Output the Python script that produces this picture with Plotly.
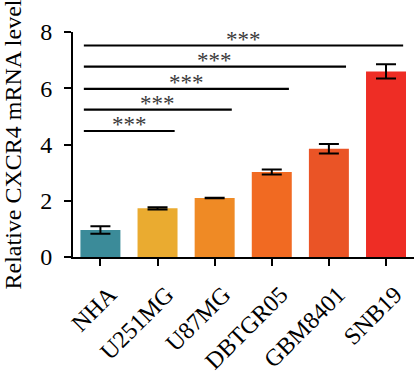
import plotly.graph_objects as go

categories = ["NHA", "U251MG", "U87MG", "DBTGR05", "GBM8401", "SNB19"]
values = [0.96, 1.73, 2.10, 3.02, 3.85, 6.60]
errors = [0.13, 0.04, 0.01, 0.09, 0.17, 0.25]
colors = ["#3b8b99", "#eaab30", "#ef8a25", "#f16a22", "#ea5426", "#ee2d25"]

# significance comparisons: (from index, to index, y level, label)
sig_to = [1, 2, 3, 4, 5]
sig_y = [4.48, 5.24, 5.98, 6.77, 7.52]
sig_label = ["***", "***", "***", "***", "***"]

FONT = "Liberation Serif"

fig = go.Figure()
fig.add_trace(go.Bar(
    x=list(range(len(categories))),
    y=values,
    marker=dict(color=colors, line=dict(width=0)),
    width=0.7,
    error_y=dict(type="data", array=errors, visible=True,
                 color="black", thickness=2, width=10),
    showlegend=False,
))

for t, yv, lab in zip(sig_to, sig_y, sig_label):
    x0, x1 = -0.29, t + 0.30
    fig.add_shape(type="line", x0=x0, x1=x1, y0=yv, y1=yv,
                  xref="x", yref="y", line=dict(color="black", width=2.2))
    fig.add_annotation(x=(x0 + x1) / 2, y=yv, text=lab, showarrow=False,
                       yanchor="bottom", yshift=-8,
                       font=dict(family=FONT, size=23, color="#3a3a3a"))

# extend x axis line slightly left of the y axis (GraphPad style)
fig.add_shape(type="line", xref="paper", yref="paper",
              x0=-0.02, x1=0, y0=0, y1=0,
              line=dict(color="black", width=2))

fig.update_layout(
    width=414, height=379,
    margin=dict(l=73, r=0, t=32, b=122, autoexpand=False),
    paper_bgcolor="white", plot_bgcolor="white",
    font=dict(family=FONT, color="black"),
    bargap=0.3,
)
fig.update_xaxes(
    range=[-0.48, 5.49], automargin=False,
    tickmode="array", tickvals=list(range(len(categories))), ticktext=categories,
    tickangle=-45, tickfont=dict(family=FONT, size=24, color="black"),
    ticklabelshift=9, ticklabelstandoff=5,
    showline=True, linecolor="black", linewidth=2,
    ticks="outside", ticklen=7, tickwidth=2, tickcolor="black",
    showgrid=False, zeroline=False,
)
fig.update_yaxes(
    range=[0, 8], tickvals=[0, 2, 4, 6, 8], automargin=False,
    tickfont=dict(family=FONT, size=24, color="black"),
    title=dict(text="Relative CXCR4 mRNA level",
               font=dict(family=FONT, size=24, color="black"), standoff=13),
    showline=True, linecolor="black", linewidth=2,
    ticks="outside", ticklen=7, tickwidth=2, tickcolor="black",
    ticklabelstandoff=7,
    showgrid=False, zeroline=False,
)

fig.write_html("out.html", config={"displayModeBar": False},
               post_script="document.body.style.margin='0';document.body.style.padding='0';")
